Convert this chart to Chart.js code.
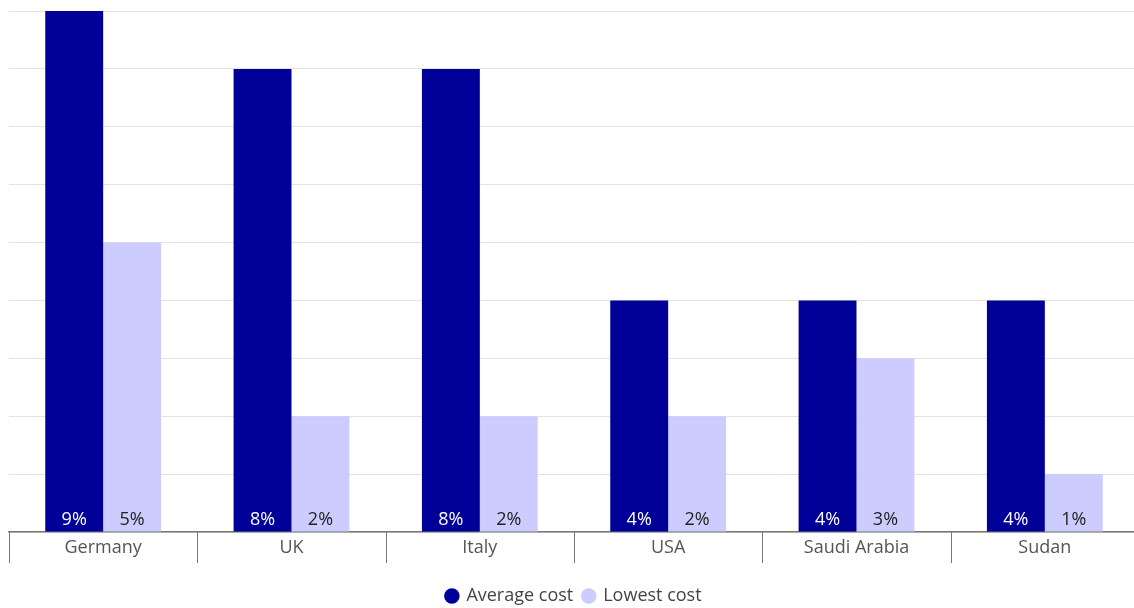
<!DOCTYPE html>
<html lang="en">
<head>
  <meta charset="utf-8" />
  <title>Average and lowest cost</title>
  <script src="https://cdn.jsdelivr.net/npm/chart.js@4.4.1/dist/chart.umd.min.js"></script>
  <style>
    html, body { margin: 0; padding: 0; background: #fff; overflow: hidden; }
    .chart-wrap { position: relative; width: 1140px; height: 608px; }
  </style>
</head>
<body>
  <div class="chart-wrap">
    <canvas id="chart"></canvas>
  </div>
  <script>
    const countries = ["Germany", "UK", "Italy", "USA", "Saudi Arabia", "Sudan"];
    const averageCost = [9, 8, 8, 4, 4, 4];
    const lowestCost = [5, 2, 2, 2, 3, 1];
    const yTicks = [0, 1, 2, 3, 4, 5, 6, 7, 8, 9];

    const FONT = "'Open Sans', sans-serif";

    // value labels at the foot of each bar
    const barLabels = {
      id: "barLabels",
      afterDatasetsDraw(chart) {
        const ctx = chart.ctx;
        const bottom = chart.chartArea.bottom;
        ctx.save();
        ctx.font = "18px " + FONT;
        ctx.textAlign = "center";
        ctx.textBaseline = "middle";
        chart.data.datasets.forEach((ds, di) => {
          const meta = chart.getDatasetMeta(di);
          meta.data.forEach((bar, i) => {
            ctx.fillStyle = di === 0 ? "#ffffff" : "#222222";
            ctx.fillText(ds.data[i] + "%", bar.x, bottom - 12);
          });
        });
        ctx.restore();
      },
    };

    // category separators hanging below the axis line
    const separators = {
      id: "separators",
      afterDraw(chart) {
        const x = chart.scales.x;
        const ctx = chart.ctx;
        const bottom = chart.chartArea.bottom;
        ctx.save();
        ctx.strokeStyle = "#777";
        ctx.lineWidth = 1;
        for (let i = 0; i <= countries.length; i++) {
          const px = Math.round(x.getPixelForValue(i - 0.5)) + 0.5;
          ctx.beginPath();
          ctx.moveTo(px, bottom);
          ctx.lineTo(px, bottom + 31);
          ctx.stroke();
        }
        ctx.restore();
      },
    };

    new Chart(document.getElementById("chart"), {
      type: "bar",
      data: {
        labels: countries,
        datasets: [
          {
            label: "Average cost",
            data: averageCost,
            backgroundColor: "#000099",
            categoryPercentage: 0.615,
            barPercentage: 1,
          },
          {
            label: "Lowest cost",
            data: lowestCost,
            backgroundColor: "#ccccff",
            categoryPercentage: 0.615,
            barPercentage: 1,
          },
        ],
      },
      plugins: [barLabels, separators],
      options: {
        responsive: true,
        maintainAspectRatio: false,
        animation: false,
        layout: { padding: { top: 11, left: 9, right: 1, bottom: -7 } },
        plugins: {
          tooltip: { enabled: false },
          legend: {
            position: "bottom",
            labels: {
              usePointStyle: true,
              pointStyle: "circle",
              boxWidth: 11,
              boxHeight: 11,
              padding: 10,
              color: "#444",
              font: { family: FONT, size: 18 },
            },
          },
        },
        scales: {
          x: {
            grid: { display: false, drawTicks: false },
            border: { display: true, color: "#777", width: 1.5 },
            ticks: {
              padding: 5,
              color: "#555",
              font: { family: FONT, size: 18 },
            },
            afterFit(scale) {
              scale.height = 45;
            },
          },
          y: {
            min: yTicks[0],
            max: yTicks[yTicks.length - 1],
            afterBuildTicks(axis) {
              axis.ticks = yTicks.map((v) => ({ value: v }));
            },
            ticks: { display: false },
            grid: { color: "#e3e3e3", drawTicks: false },
            border: { display: false },
          },
        },
      },
    });
  </script>
</body>
</html>
